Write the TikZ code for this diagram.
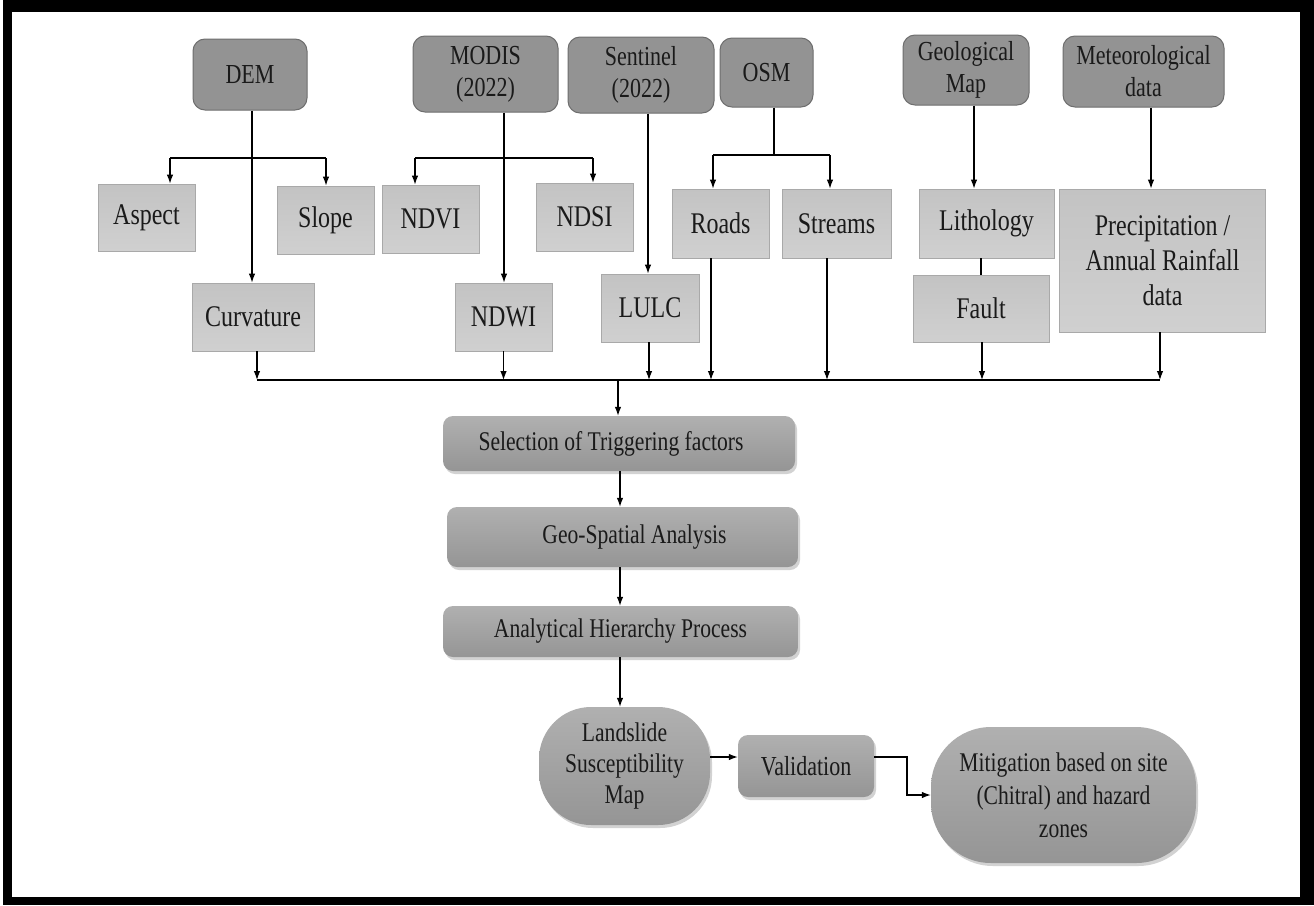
\documentclass[tikz,border=0pt]{standalone}
\usepackage{fontspec}
\setmainfont{Liberation Serif}[FakeStretch=0.8]
\usetikzlibrary{arrows.meta,shadows}
\definecolor{srcfill}{HTML}{939393}
\definecolor{srcdraw}{HTML}{6E6E6E}
\definecolor{factop}{HTML}{C3C3C3}
\definecolor{facbot}{HTML}{D0D0D0}
\definecolor{facdraw}{HTML}{A9A9A9}
\definecolor{proctop}{HTML}{B0B0B0}
\definecolor{procbot}{HTML}{959595}
\definecolor{txt}{HTML}{1A1A1A}
\begin{document}
\begin{tikzpicture}[x=1pt,y=-1pt,
  sz/.style 2 args={minimum width=#1pt,minimum height=#2pt},
  src/.style={rounded corners=12pt,draw=srcdraw,fill=srcfill,line width=1pt,align=center,inner sep=0pt,text=txt,font=\fontsize{27.5}{32}\selectfont},
  fac/.style={draw=facdraw,top color=factop,bottom color=facbot,line width=0.8pt,align=center,inner sep=0pt,text=txt,font=\fontsize{30}{35}\selectfont},
  proc/.style={rounded corners=10pt,top color=proctop,bottom color=procbot,draw=none,align=center,inner sep=0pt,text=txt,font=\fontsize{27}{32}\selectfont,
    drop shadow={shadow xshift=2pt,shadow yshift=-3pt,opacity=0.35,fill=gray}},
  ln/.style={line width=1.1pt,draw=black},
  arr/.style={ln,-{Latex[length=9pt,width=6.5pt]}}]
\useasboundingbox (0,0) rectangle (1314,905);
\fill[black] (3,0) rectangle (1314,905);
\fill[white] (12,12) rectangle (1300,897);

% source row
\node[src,sz={114}{71}] (DEM) at (250,74.5) {DEM};
\node[src,sz={145}{76}] (MOD) at (485.5,74) {MODIS\\(2022)};
\node[src,sz={146}{76}] (SEN) at (641,75) {Sentinel\\(2022)};
\node[src,sz={93}{69}] (OSM) at (766.5,72.5) {OSM};
\node[src,sz={126}{70}] (GEO) at (966,70) {Geological\\Map};
\node[src,sz={161}{71}] (MET) at (1143.5,71.5) {Meteorological\\data};

% factor rows
\node[fac,sz={97}{67}] (ASP) at (146.5,217.5) {Aspect};
\node[fac,sz={97}{68}] (SLO) at (325.5,220) {Slope};
\node[fac,sz={97}{68}] (NDVI) at (430.5,219) {NDVI};
\node[fac,sz={97}{68}] (NDSI) at (584.5,217) {NDSI};
\node[fac,sz={97}{69}] (ROA) at (720.5,223.5) {Roads};
\node[fac,sz={109}{69}] (STR) at (836.5,223.5) {Streams};
\node[fac,sz={135}{69}] (LIT) at (986.5,223.5) {Lithology};
\node[fac,sz={206}{143}] (PRE) at (1162.5,260.5) {Precipitation /\\Annual Rainfall\\data};
\node[fac,sz={122}{68}] (CUR) at (253,317) {Curvature};
\node[fac,sz={97}{68}] (NDWI) at (503.5,317) {NDWI};
\node[fac,sz={98}{68}] (LULC) at (650,308) {LULC};
\node[fac,sz={136}{67}] (FAU) at (981,308.5) {Fault};

% process
\node[proc,sz={352}{55}] (SEL) at (619,443.5) {Selection of Triggering factors\hspace{16pt}};
\node[proc,sz={351}{60}] (GSA) at (622.5,537) {\hspace{24pt}Geo-Spatial Analysis};
\node[proc,sz={355}{51}] (AHP) at (620.5,631.5) {Analytical Hierarchy Process};
\node[proc,rounded corners=52pt,sz={171}{118},font=\fontsize{27}{31}\selectfont] (LSM) at (624.5,766) {Landslide\\Susceptibility\\Map};
\node[proc,sz={136}{62},font=\fontsize{27.5}{31}\selectfont] (VAL) at (806,766) {Validation};
\node[proc,rounded corners=60pt,sz={265}{136},font=\fontsize{27}{33}\selectfont] (MIT) at (1063.5,795) {Mitigation based on site\\(Chitral) and hazard\\zones};

% DEM connectors
\draw[arr] ([xshift=2pt]DEM.south) -- ([xshift=2pt]DEM.south |- CUR.north);
\coordinate (dl) at (170,158); \coordinate (dr) at (326,158);
\draw[ln] (dl) -- (dr);
\draw[arr] (dl) -- (dl |- ASP.north);
\draw[arr] (dr) -- (dr |- SLO.north);
% MODIS connectors
\draw[arr] ([xshift=18.5pt]MOD.south) -- ([xshift=18.5pt]MOD.south |- NDWI.north);
\coordinate (ml) at (415,158); \coordinate (mr) at (593,158);
\draw[ln] (ml) -- (mr);
\draw[arr] (ml) -- (ml |- NDVI.north);
\draw[arr] (mr) -- (mr |- NDSI.north);
% Sentinel
\draw[arr] ([xshift=7pt]SEN.south) -- ([xshift=7pt]SEN.south |- LULC.north);
% OSM
\coordinate (oc) at (774,155); \coordinate (ol) at (713,155); \coordinate (orr) at (830,155);
\draw[ln] ([xshift=7.5pt]OSM.south) -- (oc);
\draw[ln] (ol) -- (orr);
\draw[arr] (ol) -- (ol |- ROA.north);
\draw[arr] (orr) -- (orr |- STR.north);
% Geological / Meteorological
\draw[arr] ([xshift=8pt]GEO.south) -- ([xshift=8pt]GEO.south |- LIT.north);
\draw[arr] ([xshift=7.5pt]MET.south) -- ([xshift=7.5pt]MET.south |- PRE.north);
\draw[ln] ([xshift=-5.5pt]LIT.south) -- ([xshift=-5.5pt]LIT.south |- FAU.north);

% bus
\coordinate (busL) at (257,380); \coordinate (busR) at (1160,380); \coordinate (busT) at (618,380);
\draw[ln] (busL) -- (busR);
\draw[arr] ([xshift=4pt]CUR.south) -- ([xshift=4pt]CUR.south |- busL);
\draw[arr] (NDWI.south) -- (NDWI.south |- busL);
\draw[arr] ([xshift=-1pt]LULC.south) -- ([xshift=-1pt]LULC.south |- busL);
\draw[arr] ([xshift=-9.5pt]ROA.south) -- ([xshift=-9.5pt]ROA.south |- busL);
\draw[arr] ([xshift=-9.5pt]STR.south) -- ([xshift=-9.5pt]STR.south |- busL);
\draw[arr] ([xshift=1pt]FAU.south) -- ([xshift=1pt]FAU.south |- busL);
\draw[arr] ([xshift=-2.5pt]PRE.south) -- ([xshift=-2.5pt]PRE.south |- busL);
\draw[arr] (busT) -- (busT |- SEL.north);

% process chain
\draw[arr] ([xshift=1pt]SEL.south) -- ([xshift=1pt]SEL.south |- GSA.north);
\draw[arr] ([xshift=-2.5pt]GSA.south) -- ([xshift=-2.5pt]GSA.south |- AHP.north);
\draw[arr] ([xshift=-0.5pt]AHP.south) -- ([xshift=-0.5pt]AHP.south |- LSM.north);
\draw[arr] ([yshift=9pt]LSM.east) -- ([yshift=9pt]VAL.west);
\coordinate (vm) at (907,776);
\draw[arr] ([yshift=9pt]VAL.east) -| (vm) |- (MIT.west);
\end{tikzpicture}
\end{document}
